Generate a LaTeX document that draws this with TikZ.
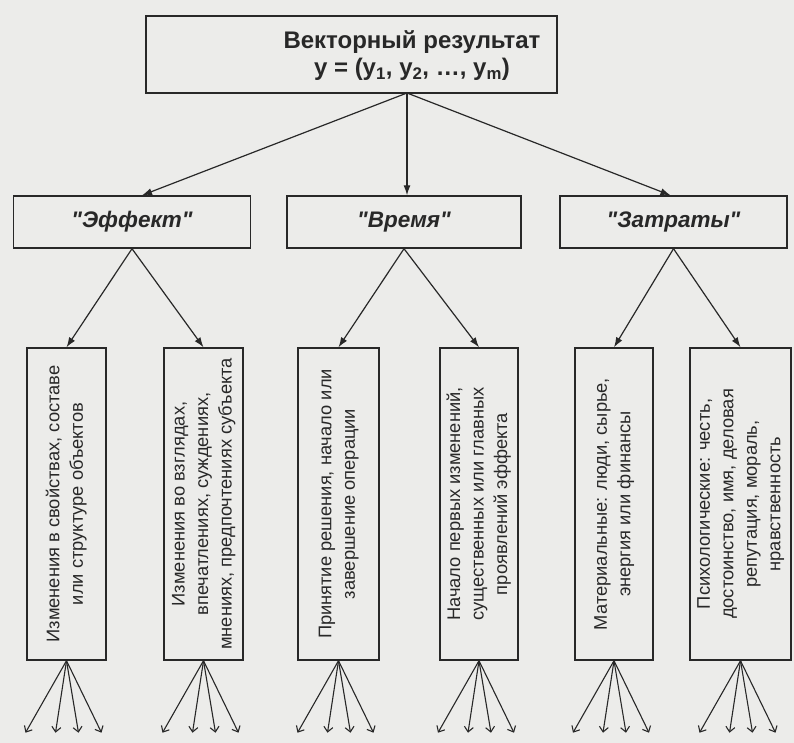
\documentclass[tikz,border=0pt]{standalone}
\usepackage{fontspec}
\setmainfont{Liberation Sans}
\usetikzlibrary{arrows.meta}
\definecolor{paper}{RGB}{236,236,234}
\definecolor{ink}{RGB}{40,40,40}
% vertical (rotated) multi-line label
\newcommand{\vlab}[1]{\rotatebox{90}{\begin{tabular}{@{}c@{}}#1\end{tabular}}}
\newcommand{\qt}[1]{\textquotedbl#1\textquotedbl}
\begin{document}
\begin{tikzpicture}[x=1pt,y=-1pt,
  box/.style={draw=ink, line width=1.4pt, inner sep=0pt, text=ink},
  link/.style={draw=ink, line width=1.2pt, -{Latex[length=10pt,width=7pt]}},
  fan/.style={draw=ink, line width=1.1pt, -{Straight Barb[length=5pt,width=9pt]}},
  midbox/.style={box, minimum height=52pt, font=\bfseries\itshape\fontsize{22.5}{26}\selectfont},
  vbox/.style={box, minimum height=312pt, font=\fontsize{18.3}{23.5}\selectfont},
]
\fill[paper] (0,0) rectangle (794,743);
\useasboundingbox (0,0) rectangle (794,743);

% top box and its title
\node[box, minimum width=411pt, minimum height=77pt] (top) at (351.5,54.5) {};
\node[text=ink, align=center, font=\bfseries\fontsize{24}{27}\selectfont] (toptext) at (412,56)
  {Векторный результат\\y = (y\textsubscript{1}, y\textsubscript{2}, …, y\textsubscript{m})};
\coordinate (hub) at (407,93);

% second level
\node[midbox, minimum width=237pt] (m1) at (132,222) {\qt{Эффект}};
\node[midbox, minimum width=234pt] (m2) at (404,222) {\qt{Время}};
\node[midbox, minimum width=227pt] (m3) at (673.5,222) {\qt{Затраты}};

% third level
\node[vbox, minimum width=79pt]  (b1) at (66.5,504) {\vlab{Изменения в свойствах, составе\\или структуре объектов}};
\node[vbox, minimum width=79pt]  (b2) at (203.5,504) {\vlab{Изменения во взглядах,\\впечатлениях, суждениях,\\мнениях, предпочтениях субъекта}};
\node[vbox, minimum width=81pt]  (b3) at (338.5,504) {\vlab{Принятие решения, начало или\\завершение операции}};
\node[vbox, minimum width=78pt]  (b4) at (479,504) {\vlab{Начало первых изменений,\\существенных или главных\\проявлений эффекта}};
\node[vbox, minimum width=78pt]  (b5) at (614,504) {\vlab{Материальные: люди, сырье,\\энергия или финансы}};
\node[vbox, minimum width=101pt] (b6) at (740.5,504) {\vlab{Психологические: честь,\\достоинство, имя, деловая\\репутация, мораль,\\нравственность}};

% connectors
\draw[link] (hub) -- ([xshift=10pt]m1.north);
\draw[link] (hub) -- (hub |- m2.north);
\draw[link] (hub) -- ([xshift=-3pt]m3.north);

\draw[link] (m1.south) -- (b1.north);
\draw[link] (m1.south) -- (b2.north);
\draw[link] (m2.south) -- (b3.north);
\draw[link] (m2.south) -- (b4.north);
\draw[link] (m3.south) -- (b5.north);
\draw[link] (m3.south) -- (b6.north);

% fans of further branches below each box
\foreach \b in {b1,b2,b3,b4,b5,b6} {
  \foreach \dx [count=\i] in {-41,-11,12,35} {
    \coordinate (\b-end\i) at ([shift={(\dx,72)}]\b.south);
    \draw[fan] (\b.south) -- (\b-end\i);
  }
}
\end{tikzpicture}
\end{document}
